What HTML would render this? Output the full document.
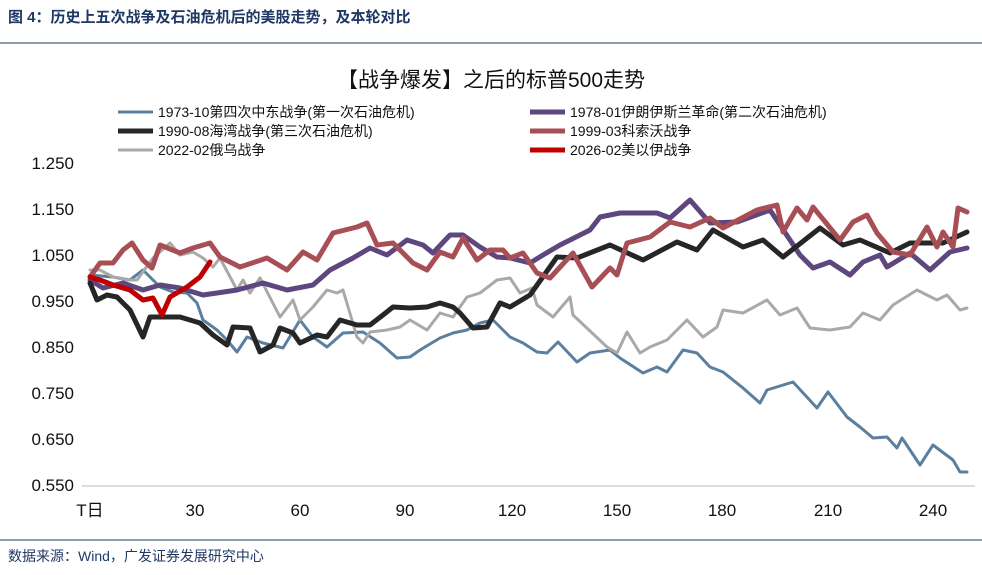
<!DOCTYPE html>
<html><head><meta charset="utf-8"><style>
body{margin:0;background:#fff;width:982px;height:570px;overflow:hidden}
text{font-family:"Liberation Sans","Noto Sans CJK SC",sans-serif}
</style></head><body>
<svg width="982" height="570" xmlns="http://www.w3.org/2000/svg">
<text x="8" y="22" font-size="15" font-weight="bold" fill="#1f3864">图 4：历史上五次战争及石油危机后的美股走势，及本轮对比</text>
<line x1="0" y1="43" x2="982" y2="43" stroke="#1f3864" stroke-width="1"/>
<text x="491" y="87" font-size="21" text-anchor="middle" fill="#111">【战争爆发】之后的标普500走势</text>
<g font-size="14" fill="#111">
<line x1="118" y1="112" x2="153" y2="112" stroke="#5b7f9e" stroke-width="3"/><text x="158" y="117">1973-10第四次中东战争(第一次石油危机)</text>
<line x1="530" y1="112" x2="565" y2="112" stroke="#5e477f" stroke-width="5"/><text x="570" y="117">1978-01伊朗伊斯兰革命(第二次石油危机)</text>
<line x1="118" y1="131" x2="153" y2="131" stroke="#262626" stroke-width="5"/><text x="158" y="136">1990-08海湾战争(第三次石油危机)</text>
<line x1="530" y1="131" x2="565" y2="131" stroke="#a84f55" stroke-width="5"/><text x="570" y="136">1999-03科索沃战争</text>
<line x1="118" y1="150" x2="153" y2="150" stroke="#a9a9a9" stroke-width="3"/><text x="158" y="155">2022-02俄乌战争</text>
<line x1="530" y1="150" x2="565" y2="150" stroke="#c00000" stroke-width="5"/><text x="570" y="155">2026-02美以伊战争</text>
</g>
<g font-size="17" fill="#111" text-anchor="end">
<text x="74" y="169">1.250</text><text x="74" y="215">1.150</text><text x="74" y="261">1.050</text><text x="74" y="307">0.950</text><text x="74" y="353">0.850</text><text x="74" y="399">0.750</text><text x="74" y="445">0.650</text><text x="74" y="491">0.550</text>
</g>
<line x1="82" y1="486" x2="975" y2="486" stroke="#bbb" stroke-width="1"/>
<g font-size="17" fill="#111" text-anchor="middle">
<text x="90" y="516">T日</text><text x="195" y="516">30</text><text x="300" y="516">60</text><text x="405" y="516">90</text><text x="512" y="516">120</text><text x="617" y="516">150</text><text x="722" y="516">180</text><text x="828" y="516">210</text><text x="933" y="516">240</text>
</g>
<g fill="none" stroke-linejoin="round" stroke-linecap="round">
<polyline stroke="#5b7f9e" stroke-width="3" points="90,275 113,277 130,280 143,270 160,287 173,292 187,293 197,303 203,320 217,330 227,340 237,352 247,337 263,343 283,348 300,320 313,337 327,347 343,333 363,332 380,343 397,358 410,357 420,350 440,338 453,333 467,330 480,323 493,320 503,330 510,337 523,343 537,352 547,353 558,342 577,362 590,353 610,350 620,358 643,373 657,367 667,372 683,350 697,353 710,367 723,372 743,388 760,403 767,390 793,382 817,408 828,392 847,417 860,427 873,438 887,437 897,448 902,438 920,465 933,445 953,460 960,472 967,472"/>
<polyline stroke="#a9a9a9" stroke-width="3" points="90,270 100,270 113,277 127,280 137,280 153,258 170,243 180,255 193,252 203,258 213,267 220,258 237,290 243,280 250,293 260,278 280,317 293,300 300,320 313,307 327,290 337,293 343,290 357,337 363,343 370,332 387,330 400,327 410,320 427,330 440,313 453,317 467,297 480,293 497,280 510,278 520,293 532,288 537,305 553,317 570,297 573,315 607,347 617,353 627,332 640,353 650,347 667,340 687,320 703,337 717,327 723,310 743,313 767,300 780,315 797,308 810,328 830,330 850,327 863,313 880,320 893,305 917,290 937,300 947,295 960,310 967,308"/>
<polyline stroke="#5e477f" stroke-width="5" points="90,280 103,288 123,283 143,290 160,285 180,288 203,295 217,293 237,290 263,283 287,290 313,285 330,270 353,258 370,248 387,255 407,240 423,245 433,253 450,235 463,235 480,247 497,257 510,258 530,263 543,255 560,245 590,230 600,217 620,213 657,213 670,218 690,200 710,223 737,222 770,210 800,255 813,268 830,262 850,275 863,262 880,255 887,267 910,253 930,270 950,252 967,248"/>
<polyline stroke="#262626" stroke-width="5" points="90,283 97,300 107,295 117,297 130,310 143,337 150,317 163,317 180,317 200,323 213,335 227,345 233,327 250,328 260,352 273,345 280,328 293,333 300,343 317,335 327,337 340,320 357,325 370,325 383,315 393,307 410,308 427,307 440,303 453,307 460,313 473,328 487,327 500,303 510,307 530,295 557,257 577,258 610,245 643,260 677,242 697,250 713,230 743,247 763,240 783,257 820,228 843,245 860,240 890,253 910,243 943,243 967,232"/>
<polyline stroke="#a84f55" stroke-width="5" points="90,277 100,263 113,263 123,250 132,243 143,260 152,268 160,245 180,253 193,248 210,243 220,257 240,267 267,258 287,270 303,252 317,260 333,233 357,227 367,223 377,245 393,243 413,263 427,270 440,252 453,257 463,238 477,260 490,250 503,250 510,258 523,253 537,273 550,278 573,253 592,287 610,268 617,275 627,243 650,237 670,222 690,227 710,218 723,228 757,210 777,205 783,232 797,208 807,220 813,207 840,240 853,222 867,215 877,233 893,252 910,255 927,227 937,247 943,232 953,247 958,208 967,212"/>
<polyline stroke="#c00000" stroke-width="5" points="90,277 100,280 113,285 130,290 143,300 153,298 162,315 170,297 187,287 200,277 210,262"/>
</g>
<line x1="0" y1="540" x2="982" y2="540" stroke="#1f3864" stroke-width="1"/>
<text x="8" y="561" font-size="14" fill="#1f3864">数据来源：Wind，广发证券发展研究中心</text>
</svg>
</body></html>
